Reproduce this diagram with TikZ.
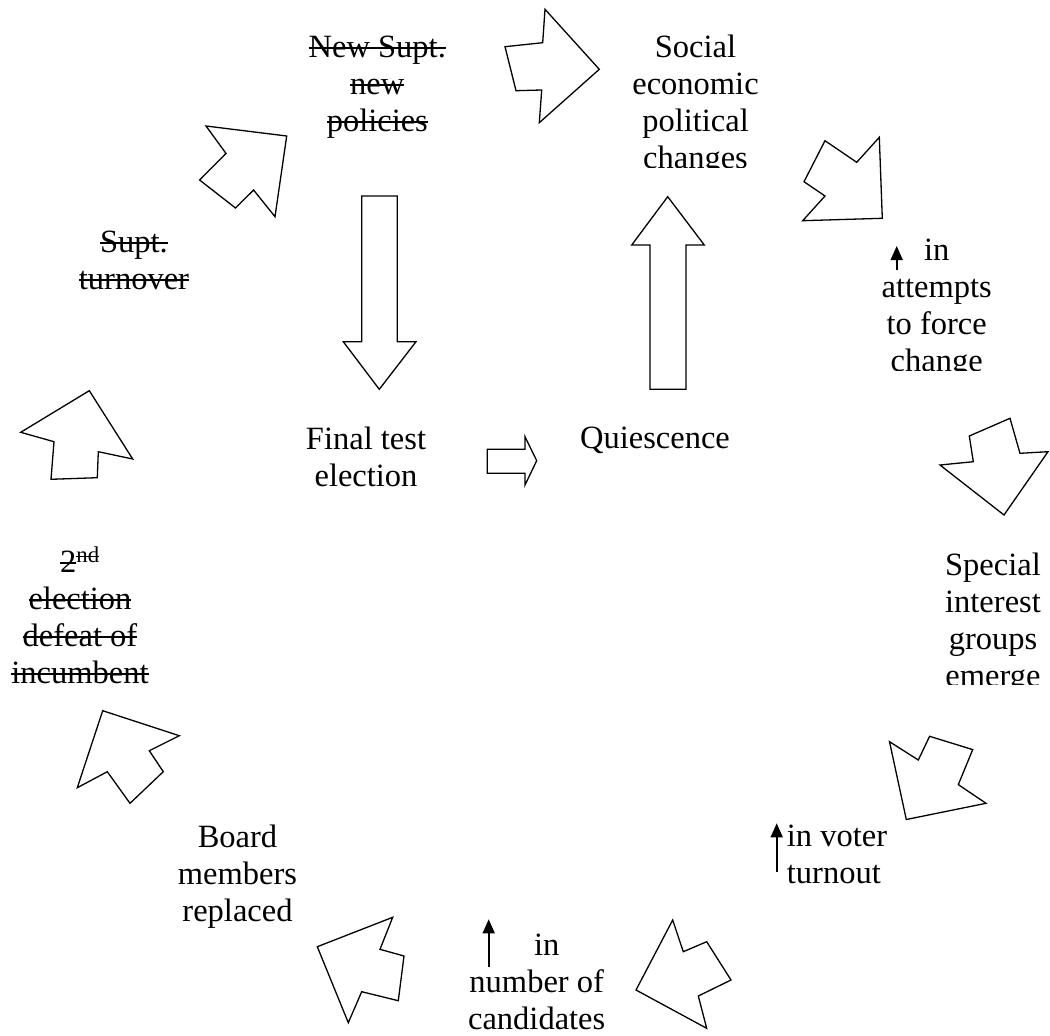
\documentclass[tikz,border=0pt]{standalone}
\usepackage{fontspec}
\setmainfont{Liberation Serif}
\usetikzlibrary{arrows.meta}

% struck-through text: a rule laid over the word at mid x-height
\newsavebox{\strkbox}
\newcommand{\strk}[1]{\sbox{\strkbox}{#1}\rlap{\rule[0.25em]{\wd\strkbox}{1.4pt}}\usebox{\strkbox}}

\tikzset{
  blockarrow/.style={draw=black, fill=white, line width=1.3pt, line join=miter},
  % multi-line labels are placed by the baseline of their last line
  label/.style={font=\fontsize{32.5}{37}\selectfont, align=center, inner sep=0pt, anchor=base},
  uparrow/.style={draw=black, line width=1.6pt, -{Triangle[width=12pt,length=14pt]}}
}

\begin{document}
\begin{tikzpicture}[x=1pt, y=-1pt]
  \useasboundingbox[fill=white] (0,0) rectangle (1050,1036);

  % ---------- outer cycle of block arrows ----------
  % Supt. turnover -> new policies
  \draw[blockarrow] (206,126) -- (286.7,136) -- (275,216.7) -- (253.6,190) -- (235.5,208) -- (199.6,180) -- (226,153.4) -- cycle;
  % new policies -> social changes
  \draw[blockarrow] (545,9.3) -- (599.3,69.3) -- (539.3,122.7) -- (541.7,90) -- (516,90.7) -- (505,46.7) -- (542.7,42.7) -- cycle;
  % social changes -> attempts to force change
  \draw[blockarrow] (825,140.7) -- (856.7,162.3) -- (879.3,137.3) -- (882.3,218.3) -- (802.7,220.7) -- (825,196) -- (804,181.7) -- cycle;
  % attempts -> special interest groups
  \draw[blockarrow] (1010,418.3) -- (1020,453.3) -- (1048,451.7) -- (1004,515) -- (940,465) -- (973.3,461.7) -- (969.3,436) -- cycle;
  % special interest groups -> voter turnout
  \draw[blockarrow] (889.5,741.7) -- (918.3,760) -- (929.6,736.3) -- (972.7,749.6) -- (958.3,784.6) -- (986,803.3) -- (906.3,819.5) -- cycle;
  % voter turnout -> number of candidates
  \draw[blockarrow] (672.7,920) -- (683.3,951.7) -- (706.7,941.7) -- (731,980) -- (698.3,996) -- (706.7,1028.3) -- (636,990) -- cycle;
  % number of candidates -> board members replaced
  \draw[blockarrow] (392.7,917.3) -- (380,949.3) -- (404,956) -- (398.3,1000.7) -- (361.7,991.7) -- (348.3,1022.7) -- (317.3,946.7) -- cycle;
  % board members replaced -> 2nd election
  \draw[blockarrow] (102.7,710.7) -- (179.3,735.7) -- (149.3,750.7) -- (163.3,771.7) -- (130,803.3) -- (107.3,771.7) -- (77.3,787.7) -- cycle;
  % 2nd election -> Supt. turnover
  \draw[blockarrow] (89.3,390.7) -- (132.7,459) -- (98.3,451.7) -- (97.3,477.7) -- (51,479.3) -- (54,441.7) -- (20.7,432.3) -- cycle;

  % ---------- inner arrows ----------
  % new policies down to final test election
  \draw[blockarrow] (361.7,196) -- (397.3,196) -- (397.3,341.7) -- (416,341.7) -- (379.3,389.3) -- (343.3,341.7) -- (361.7,341.7) -- cycle;
  % quiescence up to social changes
  \draw[blockarrow] (650,389.3) -- (686,389.3) -- (686,245) -- (704.3,245) -- (667.7,196.7) -- (631.7,245) -- (650,245) -- cycle;
  % final test election -> quiescence
  \draw[blockarrow] (487.3,449.3) -- (525,449.3) -- (525,436.7) -- (536.7,460.7) -- (525,485) -- (525,473.3) -- (487.3,473.3) -- cycle;

  % ---------- labels ----------
  \node[label] (policies) at (377.3,131) {\strk{New Supt.}\\\strk{new}\\\strk{policies}};

  \begin{scope}
    \clip (560,0) rectangle (840,167);
    \node[label] (social) at (695.5,168) {Social\\economic\\political\\changes};
  \end{scope}

  \begin{scope}
    \clip (860,220) rectangle (1050,370);
    \node[label] (attempts) at (936.7,371) {in\\attempts\\to force\\change};
  \end{scope}
  \coordinate (att0) at (896.7,270);
  \coordinate (att1) at (896.7,246);
  \draw[uparrow] (att0) -- (att1);

  \begin{scope}
    \clip (900,530) rectangle (1050,684);
    \node[label] (special) at (993,686) {Special\\interest\\groups\\emerge};
  \end{scope}

  \node[label, align=left, anchor=base west] (voter) at (786.7,883) {in voter\\turnout};
  \coordinate (vot0) at (776.7,871.7);
  \coordinate (vot1) at (776.7,823.3);
  \draw[uparrow] (vot0) -- (vot1);

  \node[label] (candidates) at (536.7,1029) {\hspace*{20pt}in\\number of\\candidates};
  \coordinate (can0) at (488.7,966.7);
  \coordinate (can1) at (488.7,919.3);
  \draw[uparrow] (can0) -- (can1);

  \node[label] (board) at (237.5,921) {Board\\members\\replaced};

  \node[label] (defeat) at (80,683) {\strk{2}\textsuperscript{\strk{nd}}\\\strk{election}\\\strk{defeat of}\\\strk{incumbent}};

  \node[label] (turnover) at (134,289) {\strk{Supt.}\\\strk{turnover}};

  \node[label] (final) at (366,486) {Final test\\election};
  \node[label] (quiet) at (655,448.3) {Quiescence};
\end{tikzpicture}
\end{document}
